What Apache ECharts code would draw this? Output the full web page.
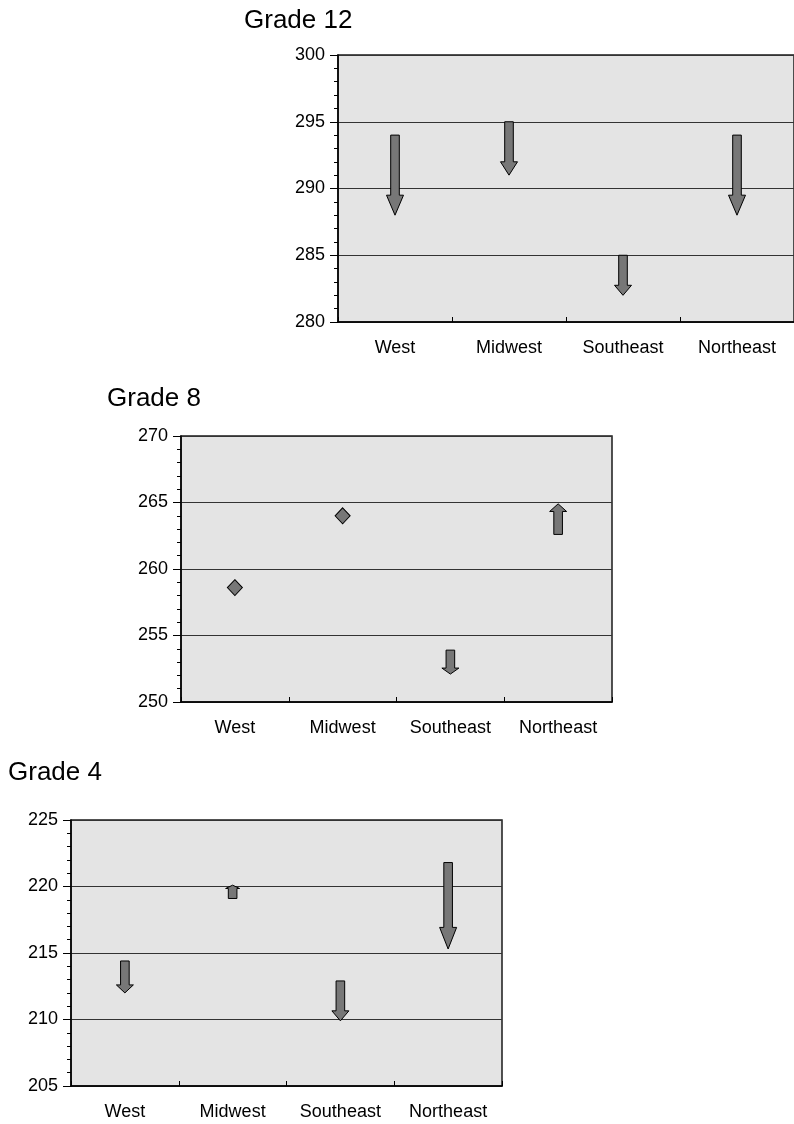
<!DOCTYPE html>
<html>
<head>
<meta charset="utf-8">
<script src="https://cdn.jsdelivr.net/npm/echarts@6/dist/echarts.min.js"></script>
<style>
html,body{margin:0;padding:0;background:#fff;}
#chart{width:794px;height:1124px;}
</style>
</head>
<body>
<div id="chart"></div>
<script>
// ---- data ----
var categories = ['West', 'Midwest', 'Southeast', 'Northeast'];
var titles = ['Grade 12', 'Grade 8', 'Grade 4'];

// Grade 12: arrow start / end values
var grade12From = [294, 295, 285, 294];
var grade12To   = [288, 291, 282, 288];
var grade12Diamond = [null, null, null, null];

// Grade 8
var grade8From = [null, null, 253.9, 262.6];
var grade8To   = [null, null, 252.1, 264.9];
var grade8Diamond = [258.6, 264, null, null];

// Grade 4
var grade4From = [214.4, 219.1, 212.9, 221.8];
var grade4To   = [212.0, 220.1, 209.9, 215.3];
var grade4Diamond = [null, null, null, null];

// axis ranges
var yMin = [280, 250, 205];
var yMax = [300, 270, 225];

// ---- chart ----
var FONT = 'Liberation Sans, Arial, Helvetica, sans-serif';
var chart = echarts.init(document.getElementById('chart'), null, {renderer: 'canvas'});

var grids = [
  {left: 338, top: 55, width: 462, height: 267},
  {left: 181, top: 436, width: 431, height: 266},
  {left: 71, top: 820, width: 431, height: 266}
];
var titlePos = [
  {left: 244, top: 8},
  {left: 107, top: 386},
  {left: 8, top: 760}
];

function arrowData(from, to) {
  var out = [];
  for (var i = 0; i < categories.length; i++) {
    if (from[i] != null && to[i] != null) out.push([i, from[i], to[i]]);
  }
  return out;
}
function diamondData(d) {
  var out = [];
  for (var i = 0; i < categories.length; i++) {
    if (d[i] != null) out.push([i, d[i]]);
  }
  return out;
}

function renderArrow(params, api) {
  var c = api.value(0);
  var p1 = api.coord([c, api.value(1)]);
  var p2 = api.coord([c, api.value(2)]);
  var x = p1[0];
  var y1 = p1[1], y2 = p2[1];
  var len = Math.abs(y2 - y1);
  var dir = y2 > y1 ? 1 : -1;
  var headLen = len * 0.25;
  var headHalf = Math.min(8.5, 3 + len * 0.3);
  var shaftHalf = 4.3;
  var yb = y2 - dir * headLen;
  var pts = [
    [x - shaftHalf, y1],
    [x + shaftHalf, y1],
    [x + shaftHalf, yb],
    [x + headHalf, yb],
    [x, y2],
    [x - headHalf, yb],
    [x - shaftHalf, yb]
  ];
  return {
    type: 'polygon',
    shape: {points: pts},
    style: {fill: '#777777', stroke: '#000', lineWidth: 1}
  };
}

var sets = [
  [grade12From, grade12To, grade12Diamond],
  [grade8From, grade8To, grade8Diamond],
  [grade4From, grade4To, grade4Diamond]
];

var option = {
  animation: false,
  backgroundColor: '#ffffff',
  title: [], grid: [], xAxis: [], yAxis: [], series: []
};

for (var g = 0; g < 3; g++) {
  option.title.push({
    text: titles[g], left: titlePos[g].left, top: titlePos[g].top, padding: 0,
    textStyle: {fontFamily: FONT, fontSize: 26, fontWeight: 'normal', color: '#000'}
  });
  option.grid.push({
    left: grids[g].left, top: grids[g].top, width: grids[g].width, height: grids[g].height,
    show: true, backgroundColor: '#e4e4e4', borderColor: '#1a1a1a', borderWidth: 1.5,
    containLabel: false
  });
  option.xAxis.push({
    type: 'category', gridIndex: g, data: categories, boundaryGap: true,
    axisLine: {show: true, lineStyle: {color: '#000', width: 1.5}},
    axisTick: {show: true, inside: true, length: 5, lineStyle: {color: '#000', width: 1}},
    axisLabel: {fontFamily: FONT, fontSize: 18, color: '#000', margin: 17},
    splitLine: {show: false}
  });
  option.yAxis.push({
    type: 'value', gridIndex: g, min: yMin[g], max: yMax[g], interval: 5,
    axisLine: {show: true, lineStyle: {color: '#000', width: 1.5}},
    axisTick: {show: true, inside: false, length: 8, lineStyle: {color: '#000', width: 1}},
    minorTick: {show: true, splitNumber: 5, length: 4, lineStyle: {color: '#000', width: 1}},
    axisLabel: {fontFamily: FONT, fontSize: 18, color: '#000', margin: 13},
    splitLine: {show: true, lineStyle: {color: '#333', width: 1}}
  });
  option.series.push({
    type: 'custom', xAxisIndex: g, yAxisIndex: g,
    renderItem: renderArrow,
    encode: {x: 0, y: [1, 2]},
    data: arrowData(sets[g][0], sets[g][1]),
    z: 5
  });
  option.series.push({
    type: 'scatter', xAxisIndex: g, yAxisIndex: g,
    symbol: 'diamond', symbolSize: [15, 16],
    itemStyle: {color: '#777777', borderColor: '#000', borderWidth: 1, opacity: 1},
    data: diamondData(sets[g][2]),
    z: 5
  });
}

chart.setOption(option);
</script>
</body>
</html>
